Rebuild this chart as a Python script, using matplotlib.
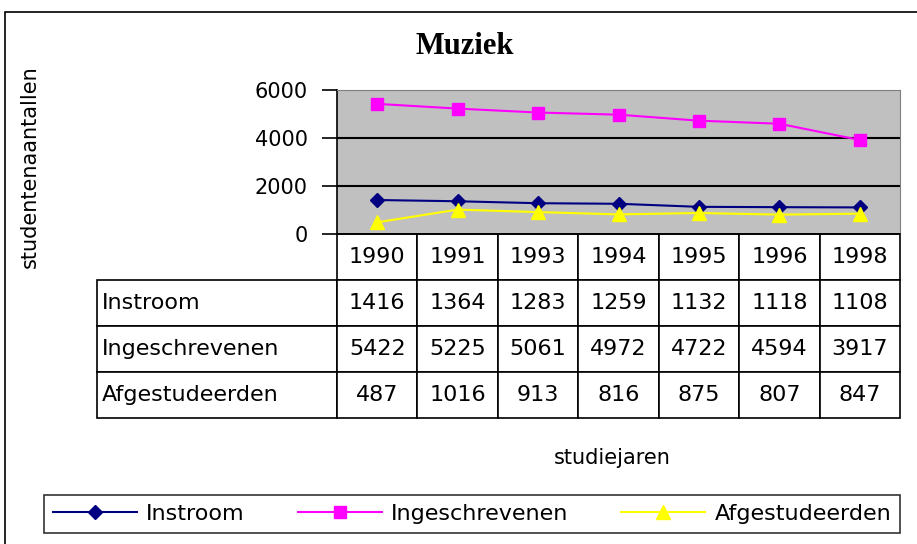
import matplotlib.pyplot as plt
from matplotlib.patches import Rectangle

jaren = ["1990", "1991", "1993", "1994", "1995", "1996", "1998"]
instroom = [1416, 1364, 1283, 1259, 1132, 1118, 1108]
ingeschrevenen = [5422, 5225, 5061, 4972, 4722, 4594, 3917]
afgestudeerden = [487, 1016, 913, 816, 875, 807, 847]
reeksen = ["Instroom", "Ingeschrevenen", "Afgestudeerden"]
y_ticks = [0, 2000, 4000, 6000]

W, H = 917, 544
fig = plt.figure(figsize=(W / 100, H / 100), dpi=100)
plt.rcParams['font.family'] = 'DejaVu Sans'

# outer chart border (right/bottom run off the picture)
fig.patches.append(Rectangle((5 / W, -0.1), 1.2, 1.1 - 12 / H, transform=fig.transFigure,
                             fill=False, edgecolor='black', linewidth=1.2))

# plot area in pixel coords
px0, px1, py0, py1 = 337, 900, 90, 234
ax = fig.add_axes([px0 / W, 1 - py1 / H, (px1 - px0) / W, (py1 - py0) / H])
ax.set_facecolor('#c0c0c0')

xs = [i + 0.5 for i in range(len(jaren))]
ax.plot(xs, instroom, color='#000080', marker='D', markersize=7, linewidth=1.5, label=reeksen[0])
ax.plot(xs, ingeschrevenen, color='#ff00ff', marker='s', markersize=9, linewidth=1.5, label=reeksen[1])
ax.plot(xs, afgestudeerden, color='#ffff00', marker='^', markersize=10, linewidth=1.5, label=reeksen[2])

ax.set_xlim(0, len(jaren))
ax.set_ylim(0, 6000)
ax.set_xticks([])
ax.set_yticks(y_ticks)
ax.tick_params(axis='y', direction='out', length=11, width=1.2, pad=10, labelsize=15)
for v in y_ticks[1:-1]:
    ax.axhline(v, color='black', linewidth=1.5, zorder=1)
ax.spines['left'].set_linewidth(1.2)
ax.spines['bottom'].set_linewidth(1.2)
ax.spines['top'].set_color('#808080')
ax.spines['right'].set_color('#808080')

# data table below the plot area, first column holds the series names
cell_text = [[reeksen[0]] + [str(v) for v in instroom],
             [reeksen[1]] + [str(v) for v in ingeschrevenen],
             [reeksen[2]] + [str(v) for v in afgestudeerden]]
aw, ah = px1 - px0, py1 - py0
tx0, ty1 = 97, 418
lab_w = (px0 - tx0) / aw
tab = ax.table(cellText=cell_text, colLabels=[''] + jaren,
               colWidths=[lab_w] + [1 / len(jaren)] * len(jaren),
               cellLoc='center', colLoc='center',
               bbox=[(tx0 - px0) / aw, -(ty1 - py1) / ah, (px1 - tx0) / aw, (ty1 - py1) / ah])
tab.auto_set_font_size(False)
tab.set_fontsize(16)
for (r, c), cell in tab.get_celld().items():
    cell.set_edgecolor('black')
    cell.set_linewidth(1.2)
    if c == 0:
        cell.get_text().set_horizontalalignment('left')
        cell._loc = 'left'
        cell.PAD = 0.02
        if r == 0:
            cell.visible_edges = ''

fig.text(465 / W, 1 - 47 / H, "Muziek", fontfamily='Liberation Serif', fontweight='bold',
         fontsize=22, ha='center', va='center')
fig.text(30 / W, 1 - 167 / H, "studentenaantallen", rotation=90, ha='center', va='center', fontsize=15)
fig.text(612 / W, 1 - 458 / H, "studiejaren", ha='center', va='center', fontsize=15)

leg = fig.legend(loc='center', bbox_to_anchor=(44 / W, 1 - 538 / H, 856 / W, 48 / H), ncol=3,
                 mode='expand', fontsize=16, frameon=True, fancybox=False, handlelength=3.8,
                 handletextpad=0.4, borderpad=0.4, borderaxespad=0)
leg.get_frame().set_edgecolor('black')
leg.get_frame().set_linewidth(1.2)

fig.savefig('out.png', dpi=100)
